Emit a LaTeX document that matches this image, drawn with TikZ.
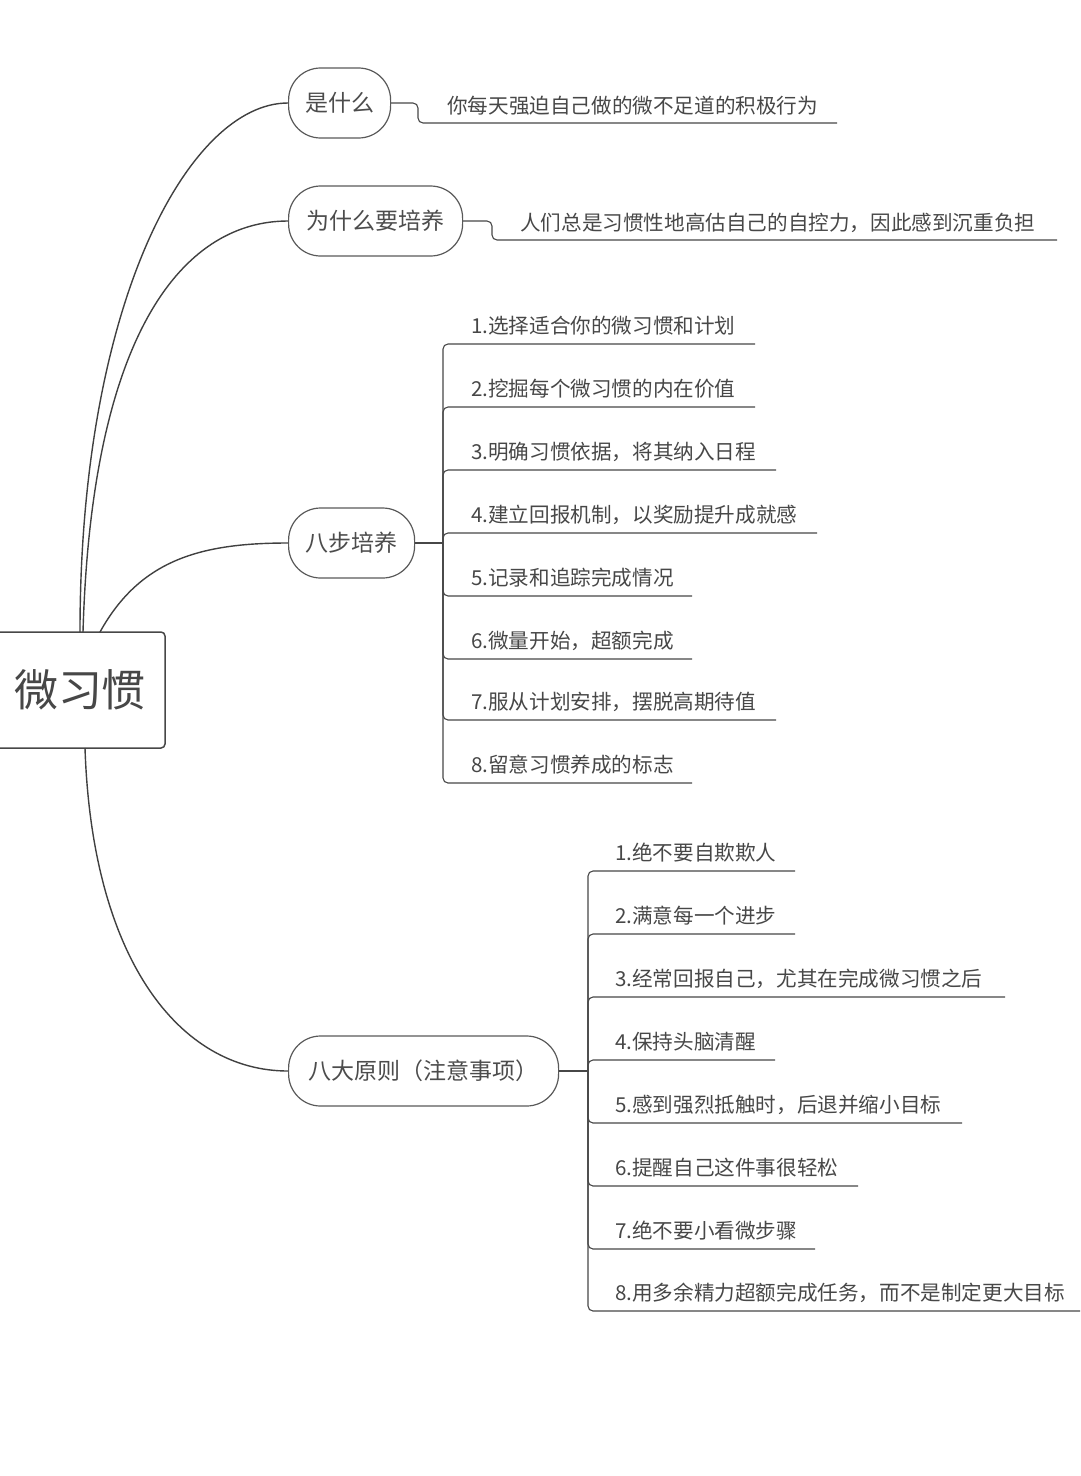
\documentclass[tikz,border=0pt]{standalone}
\usepackage{fontspec}
\setmainfont{Noto Sans CJK SC}
\begin{document}
\begin{tikzpicture}[x=1pt,y=-1pt,
  ln/.style={draw=black!75,line width=1.4pt},
  br/.style={draw=black!72,line width=1.1pt,rounded corners=5pt},
  child/.style={draw=black!65,line width=1.2pt,rounded corners=32pt,minimum height=70pt,inner xsep=14pt,text=black!70,font=\fontsize{23}{27}\selectfont,anchor=west},
  leaf/.style={anchor=west,inner sep=0pt,text=black!72,font=\fontsize{20.6}{24}\selectfont}]
\useasboundingbox (0,0) rectangle (1080,1476);
\node[draw=black!72,line width=1.5pt,rounded corners=4pt,minimum width=170pt,minimum height=116pt,text=black!72,font=\fontsize{44}{50}\selectfont] (root) at (80,690) {微习惯};
\node[child,minimum width=102pt] (c1) at (288,103) {\raisebox{-2pt}{是什么}};
\node[child,minimum width=174pt] (c2) at (288,221) {\raisebox{-2pt}{为什么要培养}};
\node[child,minimum width=126pt] (c3) at (288,543) {\raisebox{-2pt}{八步培养}};
\node[child,minimum width=270pt] (c4) at (288,1071) {\raisebox{-2pt}{八大原则（注意事项）}};
\draw[ln] (80,632) .. controls (80,300) and (190,103) .. (c1.west);
\draw[ln] (83,632) .. controls (92,320) and (190,221) .. (c2.west);
\draw[ln] (100,632) .. controls (140,560) and (200,543) .. (c3.west);
\draw[ln] (85,748) .. controls (92,960) and (180,1071) .. (c4.west);
% c1
\node[leaf] (l1) at (447,106) {你每天强迫自己做的微不足道的积极行为};
\coordinate (u1a) at (418,123); \coordinate (u1b) at (837,123);
\draw[br] (c1.east) -| (u1a) -- (u1b);
\node[leaf] (l2) at (520,223) {人们总是习惯性地高估自己的自控力，因此感到沉重负担};
\coordinate (u2a) at (492,240); \coordinate (u2b) at (1057,240);
\draw[br] (c2.east) -| (u2a) -- (u2b);
% c3
\coordinate (j3) at (443,543);
\draw[br] (c3.east) -- (j3);
\foreach \i/\y/\e/\t in {1/344/755/1.选择适合你的微习惯和计划,2/407/755/2.挖掘每个微习惯的内在价值,3/470/776/3.明确习惯依据，将其纳入日程,4/533/817/4.建立回报机制，以奖励提升成就感,5/596/692/5.记录和追踪完成情况,6/659/692/6.微量开始，超额完成,7/720/776/7.服从计划安排，摆脱高期待值,8/783/692/8.留意习惯养成的标志}{
  \node[leaf] (s\i) at (471,\y-18) {\t};
  \coordinate (se\i) at (\e,\y);
  \draw[br] (j3) |- (se\i);
}
% c4
\coordinate (j4) at (588,1071);
\draw[br] (c4.east) -- (j4);
\foreach \i/\y/\e/\t in {1/871/795/1.绝不要自欺欺人,2/934/795/2.满意每一个进步,3/997/1005/3.经常回报自己，尤其在完成微习惯之后,4/1060/775/4.保持头脑清醒,5/1123/962/5.感到强烈抵触时，后退并缩小目标,6/1186/858/6.提醒自己这件事很轻松,7/1249/815/7.绝不要小看微步骤,8/1311/1080/8.用多余精力超额完成任务，而不是制定更大目标}{
  \node[leaf] (p\i) at (615,\y-18) {\t};
  \coordinate (pe\i) at (\e,\y);
  \draw[br] (j4) |- (pe\i);
}
\end{tikzpicture}
\end{document}
